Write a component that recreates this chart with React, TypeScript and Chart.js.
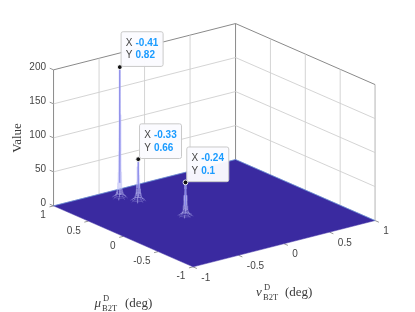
import React, { useEffect, useRef } from "react";
import { Chart, registerables } from "chart.js";

Chart.register(...registerables);

const zTicks = [0, 50, 100, 150, 200];
const muTicks = [1, 0.5, 0, -0.5, -1];
const nuTicks = [-1, -0.5, 0, 0.5, 1];
const tickText = ["1", "0.5", "0", "-0.5", "-1"];
const nuTickText = ["-1", "-0.5", "0", "0.5", "1"];

const peakNu = [-0.41, -0.33, -0.24];
const peakMu = [0.82, 0.66, 0.1];
const peakZ = [192, 61, 49];
const tipX = ["-0.41", "-0.33", "-0.24"];
const tipY = ["0.82", "0.66", "0.1"];

const ribRadius = [0, 0.004, 0.008, 0.012, 0.016, 0.02, 0.03, 0.04, 0.055, 0.07];
const profileA = [192, 122, 68, 38, 22, 13, 7, 3.5, 2, 0];
const profileB = [61, 50, 38, 27, 18, 11, 6, 3, 1.5, 0];
const profileC = [49, 39, 30, 22, 15, 9, 5, 2.5, 1, 0];
const profiles = [profileA, profileB, profileC];
const ribNu = [1, 0.7, 0, -0.7, -1, -0.7, 0, 0.7];
const ribMu = [0, 0.7, 1, 0.7, 0, -0.7, -1, -0.7];
const ringSteps = [5, 6, 7, 8];

// view of the 3-D box on the chart plane
const VIEW = { x0: 214.3, y0: 213.2, xNu: 91, yNu: -23.15, xMu: -69.75, yMu: -30.5, yZ: -0.68 };
const project = (nu: number, mu: number, z: number) => ({
  x: VIEW.x0 + VIEW.xNu * nu + VIEW.xMu * mu,
  y: VIEW.y0 + VIEW.yNu * nu + VIEW.yMu * mu + VIEW.yZ * z,
});

const SANS = '"Liberation Sans", Arial, sans-serif';
const SERIF = '"Liberation Serif", "DejaVu Serif", serif';
const TEXT = "#454545";
const BLUE = "#1a9bff";

type P3 = [number, number, number];
const line = (pts: P3[], color: string, width: number, order: number) => ({
  type: "scatter" as const,
  data: pts.map((p) => project(p[0], p[1], p[2])),
  showLine: true,
  borderColor: color,
  borderWidth: width,
  pointRadius: 0,
  fill: false,
  order,
  clip: false,
});

function buildDatasets() {
  const ds: any[] = [];
  const GRID = "#cfcfcf";
  const EDGE = "#8a8a8a";
  const ORDER_WALL = 50;
  // horizontal wall grid
  zTicks.slice(1, -1).forEach((z) => {
    ds.push(line([[-1, 1, z], [1, 1, z], [1, -1, z]], GRID, 0.9, ORDER_WALL));
  });
  // vertical wall grid
  nuTicks.slice(1, -1).forEach((nu) => ds.push(line([[nu, 1, 0], [nu, 1, 200]], GRID, 0.9, ORDER_WALL)));
  muTicks.slice(1, -1).forEach((mu) => ds.push(line([[1, mu, 0], [1, mu, 200]], GRID, 0.9, ORDER_WALL)));
  // box edges
  ds.push(line([[-1, 1, 0], [-1, 1, 200], [1, 1, 200], [1, -1, 200]], EDGE, 1, ORDER_WALL));
  ds.push(line([[1, 1, 0], [1, 1, 200]], EDGE, 1, ORDER_WALL));
  ds.push(line([[1, -1, 0], [1, -1, 200]], "#b4b4b4", 1, ORDER_WALL));
  // axis ticks
  zTicks.forEach((z) => ds.push(line([[-1, 1, z], [-1, 1.055, z]], EDGE, 0.9, ORDER_WALL)));
  muTicks.forEach((mu) => ds.push(line([[-1, mu, 0], [-1.045, mu, 0]], EDGE, 0.9, ORDER_WALL)));
  nuTicks.forEach((nu) => ds.push(line([[nu, -1, 0], [nu, -1.055, 0]], EDGE, 0.9, ORDER_WALL)));
  // floor of the surface
  ds.push({
    ...line([[-1, 1, 0], [1, 1, 0], [1, -1, 0], [-1, -1, 0], [-1, 1, 0]], "#3a2aa0", 0.5, 40),
    fill: "shape",
    backgroundColor: "#3a2aa0",
  });
  ds.push(line([[-1, 1, 0], [1, 1, 0], [1, -1, 0]], "rgba(120,190,235,0.75)", 0.7, 39));
  // peaks
  peakNu.forEach((nu0, i) => {
    const prof = profiles[i];
    ribNu.forEach((dn, k) => {
      const pts: P3[] = ribRadius.map((r, j) => [nu0 + dn * r, peakMu[i] + ribMu[k] * r, prof[j]]);
      ds.push(line(pts, "rgba(190,190,245,0.4)", 0.6, 30));
    });
    ringSteps.forEach((j) => {
      const r = ribRadius[j];
      const pts: P3[] = ribNu.map((dn, k) => [nu0 + dn * r, peakMu[i] + ribMu[k] * r, prof[j]]);
      pts.push(pts[0]);
      ds.push(line(pts, "rgba(205,205,250,0.42)", 0.55, 30));
    });
    ds.push(line(ribRadius.slice(0, 5).map((_, j) => [nu0, peakMu[i], prof[j]] as P3), "#8585e8", 1.1, 29));
  });
  // data-tip markers
  ds.push({
    type: "scatter" as const,
    data: peakNu.map((nu, i) => project(nu, peakMu[i], peakZ[i])),
    pointRadius: 2.4,
    pointBackgroundColor: "#111111",
    pointBorderColor: "rgba(255,255,255,0.9)",
    pointBorderWidth: 1,
    showLine: false,
    order: 1,
    clip: false,
  });
  return ds;
}

const labelsPlugin = {
  id: "boxLabels",
  afterDraw(chart: any) {
    const { ctx, scales } = chart;
    const px = (p: { x: number; y: number }) => ({
      x: scales.x.getPixelForValue(p.x),
      y: scales.y.getPixelForValue(p.y),
    });
    const text = (s: string, x: number, y: number, font: string, color: string, align: CanvasTextAlign = "left", base: CanvasTextBaseline = "alphabetic") => {
      ctx.font = font;
      ctx.fillStyle = color;
      ctx.textAlign = align;
      ctx.textBaseline = base;
      ctx.fillText(s, x, y);
    };
    ctx.save();
    const tickFont = `10px ${SANS}`;
    zTicks.forEach((z) => {
      const p = px(project(-1, 1, z));
      text(String(z), p.x - 7.5, p.y - 2.5, tickFont, TEXT, "right", "middle");
    });
    muTicks.forEach((mu, i) => {
      const p = px(project(-1, mu, 0));
      text(tickText[i], p.x - 7.7, p.y + 9.8, tickFont, TEXT, "right", "middle");
    });
    nuTicks.forEach((nu, i) => {
      const p = px(project(nu, -1, 0));
      text(nuTickText[i], p.x + 8.3, p.y + 11, tickFont, TEXT, "left", "middle");
    });
    // axis titles
    const big = `13px ${SERIF}`;
    const bigIt = `italic 13px ${SERIF}`;
    const small = `8.5px ${SERIF}`;
    const title = "#3a3a3a";
    text("μ", 94.5, 307, bigIt, title);
    text("D", 103, 301, small, title);
    text("B2T", 102, 311, small, title);
    text("(deg)", 125, 307, big, title);
    text("ν", 256, 295.5, bigIt, title);
    text("D", 264, 289.5, small, title);
    text("B2T", 263, 299.5, small, title);
    text("(deg)", 285, 295.5, big, title);
    ctx.save();
    ctx.translate(21, 138);
    ctx.rotate(-Math.PI / 2);
    text("Value", 0, 0, big, title, "center");
    ctx.restore();
    // data tips
    peakNu.forEach((nu, i) => {
      const m = px(project(nu, peakMu[i], peakZ[i]));
      const left = m.x + 1.3;
      const top = m.y - 35.4;
      ctx.beginPath();
      ctx.roundRect(left, top, 42, 34.7, 2);
      ctx.fillStyle = "rgba(251,251,255,0.97)";
      ctx.fill();
      ctx.strokeStyle = "#c9c9c9";
      ctx.lineWidth = 1;
      ctx.stroke();
      text("X", left + 4.6, top + 11.3, `10px ${SANS}`, TEXT, "left", "middle");
      text(tipX[i], left + 14.4, top + 11.3, `bold 10px ${SANS}`, BLUE, "left", "middle");
      text("Y", left + 4.6, top + 24, `10px ${SANS}`, TEXT, "left", "middle");
      text(tipY[i], left + 14.4, top + 24, `bold 10px ${SANS}`, BLUE, "left", "middle");
    });
    ctx.restore();
  },
};

export default function App() {
  const ref = useRef<HTMLCanvasElement>(null);
  useEffect(() => {
    document.body.style.margin = "0";
    const chart = new Chart(ref.current as HTMLCanvasElement, {
      type: "scatter",
      data: { datasets: buildDatasets() },
      options: {
        animation: false,
        responsive: false,
        devicePixelRatio: 1,
        layout: { padding: 0, autoPadding: false },
        plugins: { legend: { display: false }, tooltip: { enabled: false } },
        scales: {
          x: { type: "linear", min: 0, max: 415, display: false },
          y: { type: "linear", min: 0, max: 312, reverse: true, display: false },
        },
      },
      plugins: [labelsPlugin],
    } as any);
    return () => chart.destroy();
  }, []);
  return <canvas ref={ref} width={415} height={312} style={{ display: "block" }} />;
}
